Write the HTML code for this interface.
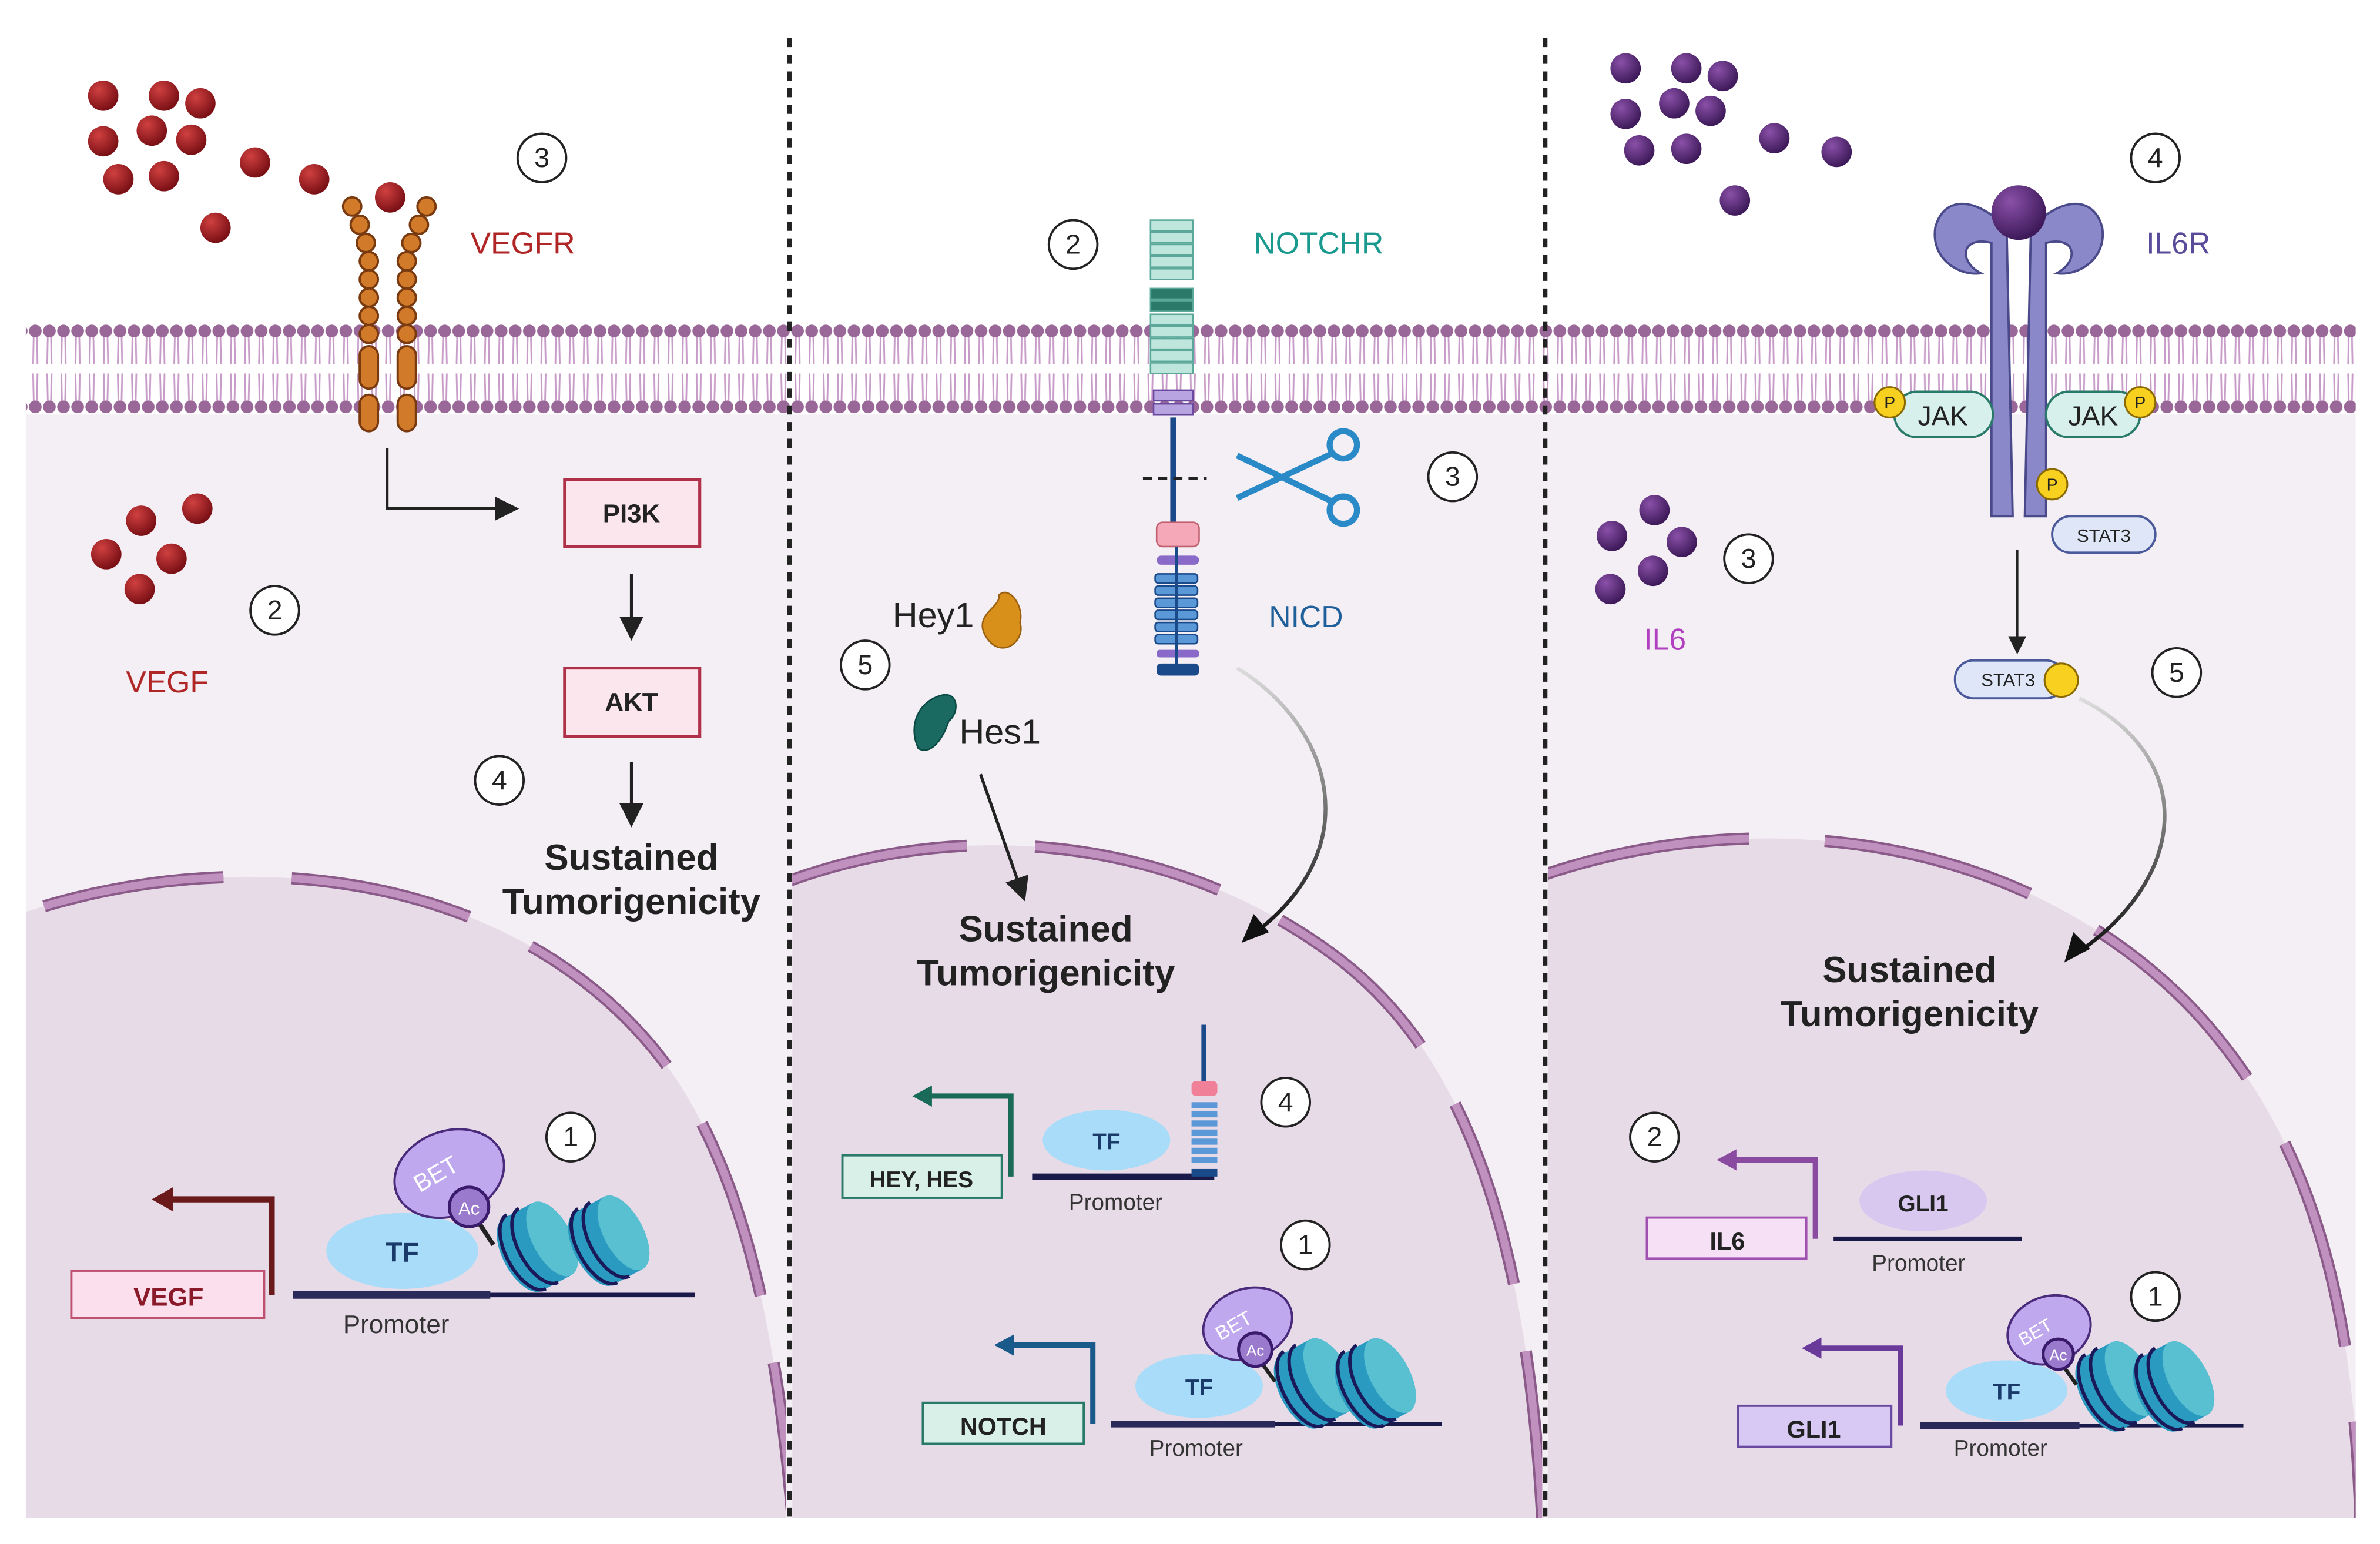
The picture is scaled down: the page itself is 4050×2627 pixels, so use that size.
<!DOCTYPE html>
<html><head><meta charset="utf-8"><style>
html,body{margin:0;padding:0;background:#fff;}
svg{display:block;}
text{font-family:"Liberation Sans",Arial,sans-serif;}
</style></head><body>
<svg width="4050" height="2627" viewBox="0 0 1568 1017" xmlns="http://www.w3.org/2000/svg">
<defs>
<pattern id="mem" x="0" y="0" width="9.3" height="1017" patternUnits="userSpaceOnUse">
<g stroke="#c89cc8" stroke-width="1.1" fill="none">
<path d="M3.6,221 L3.2,240 M5.7,221 L6.1,240 M3.2,246 L3.6,264 M6.1,246 L5.7,264"/>
</g>
<circle cx="4.65" cy="218" r="4.2" fill="#9a6898"/>
<circle cx="4.65" cy="268" r="4.2" fill="#9a6898"/>
</pattern>
<radialGradient id="red" cx="35%" cy="30%" r="70%"><stop offset="0" stop-color="#d04040"/><stop offset="1" stop-color="#7a1015"/></radialGradient>
<radialGradient id="pur" cx="35%" cy="30%" r="70%"><stop offset="0" stop-color="#8a50a8"/><stop offset="1" stop-color="#3e1a5a"/></radialGradient>
<linearGradient id="ga" x1="0" y1="0" x2="0" y2="1"><stop offset="0" stop-color="#ddd"/><stop offset="1" stop-color="#111"/></linearGradient>
<clipPath id="c1"><rect x="17" y="0" width="501" height="1000"/></clipPath>
<clipPath id="c2"><rect x="522" y="0" width="494" height="1000"/></clipPath>
<clipPath id="c3"><rect x="1020" y="0" width="532" height="1000"/></clipPath>
<marker id="ah" markerWidth="8" markerHeight="8" refX="6" refY="4" orient="auto" markerUnits="strokeWidth"><path d="M0,0 L8,4 L0,8 Z" fill="#222"/></marker>
<g id="nuc"><g transform="rotate(-28)">
<path d="M-16,-26 H6 A13,27 0 0 1 6,28 H-16 A13,27 0 0 1 -16,-26Z" fill="#2a9ac0"/>
<ellipse cx="6" cy="1" rx="13" ry="27" fill="#58c0d0"/>
<path d="M-13,-27 A13,27 0 0 0 -13,28 M-4,-27 A13,27 0 0 0 -4,28" stroke="#1a1a5a" stroke-width="2.3" fill="none"/>
</g></g>
</defs>

<rect x="17" y="240" width="1535" height="760" fill="#f4eff4"/>
<rect x="17" y="213" width="1535" height="60" fill="#fff"/>
<rect x="17" y="210" width="1535" height="64" fill="url(#mem)"/>

<g clip-path="url(#c1)">
<path d="M10,603 C150,555 330,570 430,690 C480,750 510,850 522,1000 L10,1000Z" fill="#e8dbe8"/>
<path d="M10,603 C150,555 330,570 430,690 C480,750 510,850 522,1000" fill="none" stroke="#8a5a88" stroke-width="8" stroke-dasharray="120 45" stroke-dashoffset="-20"/>
<path d="M10,603 C150,555 330,570 430,690 C480,750 510,850 522,1000" fill="none" stroke="#c090be" stroke-width="5" stroke-dasharray="120 45" stroke-dashoffset="-20"/>
</g>
<g clip-path="url(#c2)">
<path d="M515,582 C640,535 780,555 880,630 C960,690 1005,800 1016,1000 L515,1000Z" fill="#e8dbe8"/>
<path d="M515,582 C640,535 780,555 880,630 C960,690 1005,800 1016,1000" fill="none" stroke="#8a5a88" stroke-width="8" stroke-dasharray="125 45"/>
<path d="M515,582 C640,535 780,555 880,630 C960,690 1005,800 1016,1000" fill="none" stroke="#c090be" stroke-width="5" stroke-dasharray="125 45"/>
</g>
<g clip-path="url(#c3)">
<path d="M1015,577 C1150,530 1330,545 1445,665 C1510,735 1550,830 1555,1000 L1015,1000Z" fill="#e8dbe8"/>
<path d="M1015,577 C1150,530 1330,545 1445,665 C1510,735 1550,830 1555,1000" fill="none" stroke="#8a5a88" stroke-width="8" stroke-dasharray="140 50"/>
<path d="M1015,577 C1150,530 1330,545 1445,665 C1510,735 1550,830 1555,1000" fill="none" stroke="#c090be" stroke-width="5" stroke-dasharray="140 50"/>
</g>

<line x1="520" y1="25" x2="520" y2="1000" stroke="#222" stroke-width="3" stroke-dasharray="6 5"/>
<line x1="1018" y1="25" x2="1018" y2="1000" stroke="#222" stroke-width="3" stroke-dasharray="6 5"/>

<!-- PANEL 1 -->
<g fill="url(#red)">
<circle cx="68" cy="63" r="10"/><circle cx="108" cy="63" r="10"/><circle cx="132" cy="68" r="10"/><circle cx="100" cy="86" r="10"/><circle cx="126" cy="92" r="10"/><circle cx="68" cy="93" r="10"/><circle cx="78" cy="118" r="10"/><circle cx="108" cy="116" r="10"/><circle cx="168" cy="107" r="10"/><circle cx="207" cy="118" r="10"/><circle cx="142" cy="150" r="10"/><circle cx="257" cy="130" r="10"/>
<circle cx="130" cy="335" r="10"/><circle cx="93" cy="343" r="10"/><circle cx="70" cy="365" r="10"/><circle cx="113" cy="368" r="10"/><circle cx="92" cy="388" r="10"/>
</g>
<g fill="#d07a2a" stroke="#7a3a10" stroke-width="1.5">
<circle cx="232" cy="136" r="6"/><circle cx="237" cy="148" r="6"/><circle cx="241" cy="160" r="6"/><circle cx="243" cy="172" r="6"/><circle cx="243" cy="184" r="6"/><circle cx="243" cy="196" r="6"/><circle cx="243" cy="208" r="6"/><circle cx="243" cy="220" r="6"/>
<circle cx="281" cy="136" r="6"/><circle cx="276" cy="148" r="6"/><circle cx="271" cy="160" r="6"/><circle cx="268" cy="172" r="6"/><circle cx="268" cy="184" r="6"/><circle cx="268" cy="196" r="6"/><circle cx="268" cy="208" r="6"/><circle cx="268" cy="220" r="6"/>
<rect x="237" y="228" width="12" height="28" rx="6"/><rect x="262" y="228" width="12" height="28" rx="6"/>
<rect x="237" y="260" width="12" height="24" rx="6"/><rect x="262" y="260" width="12" height="24" rx="6"/>
</g>
<g fill="#fff" stroke="#222" stroke-width="1.5">
<circle cx="357" cy="104" r="16"/><circle cx="181" cy="402" r="16"/><circle cx="329" cy="514" r="16"/><circle cx="376" cy="749" r="16"/>
</g>
<g font-size="18" text-anchor="middle" fill="#222">
<text x="357" y="110">3</text><text x="181" y="408">2</text><text x="329" y="520">4</text><text x="376" y="755">1</text>
</g>
<text x="310" y="167" font-size="20" fill="#b02525">VEGFR</text>
<text x="83" y="456" font-size="20" fill="#b02525">VEGF</text>
<path d="M255,295 V335 H338" fill="none" stroke="#222" stroke-width="2" marker-end="url(#ah)"/>
<rect x="372" y="316" width="89" height="44" fill="#fbe6ee" stroke="#b0304a" stroke-width="2"/>
<text x="416" y="344" font-size="17" font-weight="bold" text-anchor="middle" fill="#222">PI3K</text>
<line x1="416" y1="378" x2="416" y2="418" stroke="#222" stroke-width="2" marker-end="url(#ah)"/>
<rect x="372" y="440" width="89" height="45" fill="#fbe6ee" stroke="#b0304a" stroke-width="2"/>
<text x="416" y="468" font-size="17" font-weight="bold" text-anchor="middle" fill="#222">AKT</text>
<line x1="416" y1="502" x2="416" y2="541" stroke="#222" stroke-width="2" marker-end="url(#ah)"/>
<g font-size="24" font-weight="bold" text-anchor="middle" fill="#222">
<text x="416" y="573">Sustained</text><text x="416" y="602">Tumorigenicity</text>
<text x="689" y="620">Sustained</text><text x="689" y="649">Tumorigenicity</text>
<text x="1258" y="647">Sustained</text><text x="1258" y="676">Tumorigenicity</text>
</g>
<rect x="47" y="837" width="127" height="31" fill="#fbdfec" stroke="#c05070" stroke-width="1.5"/>
<text x="111" y="860" font-size="17" font-weight="bold" text-anchor="middle" fill="#8a1a2a">VEGF</text>
<path d="M179,853 V790 H112" fill="none" stroke="#6a1a1a" stroke-width="4"/>
<path d="M100,790 L114,782 L114,798Z" fill="#6a1a1a"/>
<line x1="193" y1="853" x2="458" y2="853" stroke="#1a1a4a" stroke-width="3"/>
<line x1="193" y1="853" x2="323" y2="853" stroke="#2a2a5a" stroke-width="5"/>
<use href="#nuc" x="358" y="818"/><use href="#nuc" x="405" y="814"/>
<ellipse cx="265" cy="824" rx="50" ry="25" fill="#a8dcf8"/>
<text x="265" y="831" font-size="18" font-weight="bold" text-anchor="middle" fill="#1a3a6a">TF</text>
<ellipse cx="296" cy="773" rx="37" ry="28" fill="#c0a8ef" stroke="#4a2a7a" stroke-width="1.5" transform="rotate(-20 296 773)"/>
<text x="290" y="778" font-size="16" fill="#fff" text-anchor="middle" transform="rotate(-30 290 778)">BET</text>
<line x1="312" y1="800" x2="325" y2="820" stroke="#222" stroke-width="3"/>
<circle cx="309" cy="795" r="13" fill="#9a7acc" stroke="#3a1a6a" stroke-width="2"/>
<text x="309" y="800" font-size="12" fill="#fff" text-anchor="middle">Ac</text>
<text x="261" y="878" font-size="17" text-anchor="middle" fill="#333">Promoter</text>

<!-- PANEL 2 -->
<g stroke="#5aa89a" stroke-width="1">
<rect x="758" y="145" width="28" height="7" fill="#bfe6dc"/><rect x="758" y="153" width="28" height="7" fill="#bfe6dc"/><rect x="758" y="161" width="28" height="7" fill="#bfe6dc"/><rect x="758" y="169" width="28" height="7" fill="#bfe6dc"/><rect x="758" y="177" width="28" height="7" fill="#bfe6dc"/>
<rect x="758" y="190" width="28" height="7" fill="#2a7a6a"/><rect x="758" y="198" width="28" height="7" fill="#2a7a6a"/>
<rect x="758" y="207" width="28" height="7" fill="#bfe6dc"/><rect x="758" y="215" width="28" height="7" fill="#bfe6dc"/><rect x="758" y="223" width="28" height="7" fill="#bfe6dc"/><rect x="758" y="231" width="28" height="7" fill="#bfe6dc"/><rect x="758" y="239" width="28" height="7" fill="#bfe6dc"/>
</g>
<rect x="760" y="257" width="26" height="7" fill="#b8a4e0" stroke="#6a4aa0"/><rect x="760" y="266" width="26" height="7" fill="#b8a4e0" stroke="#6a4aa0"/>
<line x1="773" y1="275" x2="773" y2="345" stroke="#1a4a8a" stroke-width="4"/>
<line x1="753" y1="315" x2="795" y2="315" stroke="#222" stroke-width="2" stroke-dasharray="6 4"/>
<rect x="762" y="344" width="28" height="16" rx="4" fill="#f4a8b8" stroke="#c06070"/>
<rect x="762" y="366" width="28" height="6" rx="3" fill="#8a6ac8"/>
<g fill="#5a98d8" stroke="#1a4a8a" stroke-width="1">
<rect x="761" y="378" width="28" height="6" rx="2"/><rect x="761" y="386" width="28" height="6" rx="2"/><rect x="761" y="394" width="28" height="6" rx="2"/><rect x="761" y="402" width="28" height="6" rx="2"/><rect x="761" y="410" width="28" height="6" rx="2"/><rect x="761" y="418" width="28" height="6" rx="2"/>
</g>
<rect x="762" y="428" width="28" height="5" rx="2" fill="#8a6ac8"/>
<rect x="762" y="437" width="28" height="8" rx="3" fill="#1a4a8a"/>
<line x1="775" y1="360" x2="775" y2="440" stroke="#1a4a8a" stroke-width="2"/>
<g stroke="#2a8ac8" stroke-width="4" fill="none">
<circle cx="885" cy="293" r="9"/><circle cx="885" cy="336" r="9"/>
<path d="M877,299 L815,328 M877,330 L815,300"/>
</g>
<g fill="#fff" stroke="#222" stroke-width="1.5">
<circle cx="707" cy="161" r="16"/><circle cx="957" cy="314" r="16"/><circle cx="570" cy="438" r="16"/><circle cx="847" cy="726" r="16"/><circle cx="860" cy="820" r="16"/>
</g>
<g font-size="18" text-anchor="middle" fill="#222">
<text x="707" y="167">2</text><text x="957" y="320">3</text><text x="570" y="444">5</text><text x="847" y="732">4</text><text x="860" y="826">1</text>
</g>
<text x="826" y="167" font-size="20" fill="#1a9a8e">NOTCHR</text>
<text x="836" y="413" font-size="20" fill="#1f5f9a">NICD</text>
<text x="588" y="413" font-size="23" fill="#222">Hey1</text>
<path d="M650,420 C640,405 660,400 658,392 C665,385 675,400 672,410 C676,422 660,435 650,420Z" fill="#d8901a" stroke="#9a6010"/>
<path d="M605,493 C598,478 605,462 620,458 C632,455 632,470 625,475 C622,485 614,498 605,493Z" fill="#1a6a62" stroke="#0a4a44"/>
<text x="632" y="490" font-size="23" fill="#222">Hes1</text>
<line x1="646" y1="510" x2="674" y2="590" stroke="#222" stroke-width="2" marker-end="url(#ah)"/>
<path d="M815,440 C880,480 900,560 826,615" fill="none" stroke="url(#ga)" stroke-width="2.5"/>
<path d="M818,621 L826,602 L836,614Z" fill="#111"/>
<rect x="555" y="761" width="105" height="28" fill="#d8f0e8" stroke="#2a7a6a" stroke-width="1.5"/>
<text x="607" y="782" font-size="15" font-weight="bold" text-anchor="middle" fill="#222">HEY, HES</text>
<path d="M666,775 V722 H612" fill="none" stroke="#1a6a5a" stroke-width="3.5"/>
<path d="M601,722 L614,715 L614,729Z" fill="#1a6a5a"/>
<line x1="680" y1="775" x2="800" y2="775" stroke="#1a1a4a" stroke-width="4"/>
<ellipse cx="729" cy="751" rx="42" ry="20" fill="#a8dcf8"/>
<text x="729" y="757" font-size="15" font-weight="bold" text-anchor="middle" fill="#1a3a6a">TF</text>
<line x1="793" y1="675" x2="793" y2="712" stroke="#1a4a8a" stroke-width="3"/>
<rect x="785" y="712" width="17" height="10" rx="3" fill="#f08098"/>
<g fill="#5a98d8"><rect x="785" y="726" width="17" height="4"/><rect x="785" y="732" width="17" height="4"/><rect x="785" y="738" width="17" height="4"/><rect x="785" y="744" width="17" height="4"/><rect x="785" y="750" width="17" height="4"/><rect x="785" y="756" width="17" height="4"/><rect x="785" y="762" width="17" height="4"/><rect x="785" y="770" width="17" height="5" fill="#1a4a8a"/></g>
<text x="735" y="797" font-size="15" text-anchor="middle" fill="#333">Promoter</text>
<rect x="608" y="924" width="106" height="27" fill="#d8f0e8" stroke="#2a7a6a" stroke-width="1.5"/>
<text x="661" y="945" font-size="16" font-weight="bold" text-anchor="middle" fill="#222">NOTCH</text>
<path d="M720,938 V886 H666" fill="none" stroke="#1a5a8a" stroke-width="3.5"/>
<path d="M655,886 L668,879 L668,893Z" fill="#1a5a8a"/>
<line x1="732" y1="938" x2="950" y2="938" stroke="#1a1a4a" stroke-width="2.5"/>
<line x1="732" y1="938" x2="840" y2="938" stroke="#2a2a5a" stroke-width="4.5"/>
<use href="#nuc" x="870" y="908"/><use href="#nuc" x="910" y="908"/>
<ellipse cx="790" cy="913" rx="42" ry="21" fill="#a8dcf8"/>
<text x="790" y="919" font-size="15" font-weight="bold" text-anchor="middle" fill="#1a3a6a">TF</text>
<ellipse cx="822" cy="872" rx="30" ry="23" fill="#c0a8ef" stroke="#4a2a7a" stroke-width="1.5" transform="rotate(-20 822 872)"/>
<text x="815" y="877" font-size="13" fill="#fff" text-anchor="middle" transform="rotate(-30 815 877)">BET</text>
<line x1="830" y1="896" x2="840" y2="910" stroke="#222" stroke-width="2.5"/>
<circle cx="827" cy="889" r="11" fill="#9a7acc" stroke="#3a1a6a" stroke-width="2"/>
<text x="827" y="893" font-size="10" fill="#fff" text-anchor="middle">Ac</text>
<text x="788" y="959" font-size="15" text-anchor="middle" fill="#333">Promoter</text>

<!-- PANEL 3 -->
<g fill="url(#pur)">
<circle cx="1071" cy="45" r="10"/><circle cx="1111" cy="45" r="10"/><circle cx="1135" cy="50" r="10"/><circle cx="1103" cy="68" r="10"/><circle cx="1127" cy="73" r="10"/><circle cx="1071" cy="75" r="10"/><circle cx="1080" cy="99" r="10"/><circle cx="1111" cy="98" r="10"/><circle cx="1169" cy="91" r="10"/><circle cx="1210" cy="100" r="10"/><circle cx="1143" cy="132" r="10"/>
<circle cx="1090" cy="336" r="10"/><circle cx="1062" cy="353" r="10"/><circle cx="1108" cy="357" r="10"/><circle cx="1089" cy="376" r="10"/><circle cx="1061" cy="388" r="10"/>
</g>
<g fill="#8a88c8" stroke="#4a4a8a" stroke-width="1.5">
<path d="M1322,150 C1300,128 1280,130 1275,150 C1272,170 1290,182 1305,180 C1290,172 1292,155 1312,160 L1312,340 L1326,340 Z"/>
<path d="M1338,150 C1360,128 1380,130 1385,150 C1388,170 1370,182 1355,180 C1370,172 1368,155 1348,160 L1348,340 L1334,340 Z"/>
</g>
<circle cx="1330" cy="140" r="18" fill="url(#pur)"/>
<rect x="1248" y="258" width="65" height="30" rx="15" fill="#d8f0ec" stroke="#2a7a6a" stroke-width="1.5"/>
<text x="1280" y="280" font-size="18" text-anchor="middle" fill="#222">JAK</text>
<rect x="1348" y="258" width="62" height="30" rx="15" fill="#d8f0ec" stroke="#2a7a6a" stroke-width="1.5"/>
<text x="1379" y="280" font-size="18" text-anchor="middle" fill="#222">JAK</text>
<rect x="1352" y="340" width="68" height="24" rx="12" fill="#dfe6f8" stroke="#4a5a9a" stroke-width="1.5"/>
<text x="1386" y="357" font-size="12" text-anchor="middle" fill="#222">STAT3</text>
<line x1="1329" y1="362" x2="1329" y2="428" stroke="#222" stroke-width="1.5" marker-end="url(#ah)"/>
<rect x="1288" y="435" width="72" height="25" rx="12" fill="#dfe6f8" stroke="#4a5a9a" stroke-width="1.5"/>
<text x="1323" y="452" font-size="12" text-anchor="middle" fill="#222">STAT3</text>
<g fill="#f8d020" stroke="#8a6a00" stroke-width="1.2">
<circle cx="1245" cy="265" r="10"/><circle cx="1410" cy="265" r="10"/><circle cx="1352" cy="319" r="10"/><circle cx="1358" cy="448" r="11"/>
</g>
<g font-size="11" text-anchor="middle" fill="#222">
<text x="1245" y="269">P</text><text x="1410" y="269">P</text><text x="1352" y="323">P</text><text x="1358" y="452" fill="#f8d020">P</text>
</g>
<path d="M1370,460 C1450,500 1440,580 1368,628" fill="none" stroke="url(#ga)" stroke-width="2.5"/>
<path d="M1360,634 L1366,614 L1377,625Z" fill="#111"/>
<g fill="#fff" stroke="#222" stroke-width="1.5">
<circle cx="1420" cy="104" r="16"/><circle cx="1152" cy="368" r="16"/><circle cx="1434" cy="443" r="16"/><circle cx="1090" cy="749" r="16"/><circle cx="1420" cy="854" r="16"/>
</g>
<g font-size="18" text-anchor="middle" fill="#222">
<text x="1420" y="110">4</text><text x="1152" y="374">3</text><text x="1434" y="449">5</text><text x="1090" y="755">2</text><text x="1420" y="860">1</text>
</g>
<text x="1414" y="167" font-size="20" fill="#5a4a9a">IL6R</text>
<text x="1083" y="428" font-size="20" fill="#b040c0">IL6</text>
<rect x="1085" y="802" width="105" height="27" fill="#f6e0f6" stroke="#a050b0" stroke-width="1.5"/>
<text x="1138" y="823" font-size="16" font-weight="bold" text-anchor="middle" fill="#222">IL6</text>
<path d="M1196,816 V764 H1142" fill="none" stroke="#8a4aa0" stroke-width="3.5"/>
<path d="M1131,764 L1144,757 L1144,771Z" fill="#8a4aa0"/>
<line x1="1208" y1="816" x2="1332" y2="816" stroke="#1a1a4a" stroke-width="3"/>
<ellipse cx="1267" cy="791" rx="42" ry="20" fill="#d8c8f0"/>
<text x="1267" y="798" font-size="15" font-weight="bold" text-anchor="middle" fill="#222">GLI1</text>
<text x="1264" y="837" font-size="15" text-anchor="middle" fill="#333">Promoter</text>
<rect x="1145" y="926" width="101" height="27" fill="#d8c8f4" stroke="#6a4aa0" stroke-width="1.5"/>
<text x="1195" y="947" font-size="16" font-weight="bold" text-anchor="middle" fill="#222">GLI1</text>
<path d="M1252,939 V888 H1198" fill="none" stroke="#6a3a9a" stroke-width="3.5"/>
<path d="M1187,888 L1200,881 L1200,895Z" fill="#6a3a9a"/>
<line x1="1265" y1="939" x2="1478" y2="939" stroke="#1a1a4a" stroke-width="2.5"/>
<line x1="1265" y1="939" x2="1370" y2="939" stroke="#2a2a5a" stroke-width="4.5"/>
<use href="#nuc" x="1398" y="910"/><use href="#nuc" x="1436" y="910"/>
<ellipse cx="1322" cy="916" rx="40" ry="20" fill="#a8dcf8"/>
<text x="1322" y="922" font-size="15" font-weight="bold" text-anchor="middle" fill="#1a3a6a">TF</text>
<ellipse cx="1350" cy="876" rx="28" ry="22" fill="#c0a8ef" stroke="#4a2a7a" stroke-width="1.5" transform="rotate(-20 1350 876)"/>
<text x="1343" y="881" font-size="12" fill="#fff" text-anchor="middle" transform="rotate(-30 1343 881)">BET</text>
<line x1="1358" y1="898" x2="1368" y2="912" stroke="#222" stroke-width="2.5"/>
<circle cx="1356" cy="892" r="10" fill="#9a7acc" stroke="#3a1a6a" stroke-width="2"/>
<text x="1356" y="896" font-size="10" fill="#fff" text-anchor="middle">Ac</text>
<text x="1318" y="959" font-size="15" text-anchor="middle" fill="#333">Promoter</text>
</svg>
</body></html>
